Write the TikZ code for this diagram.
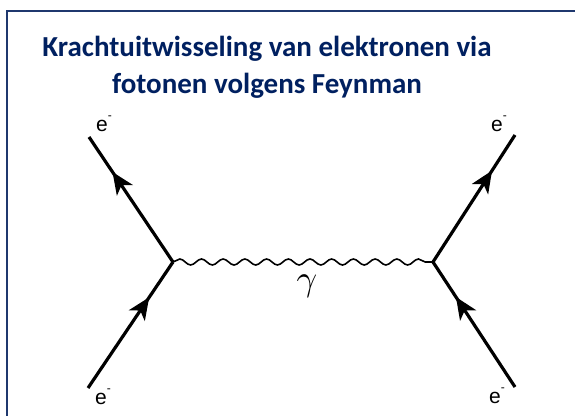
\documentclass[tikz,border=0pt]{standalone}
\usepackage{fontspec}
\setmainfont{Carlito}
\newfontfamily\labfont{Liberation Sans}
\usetikzlibrary{decorations.pathmorphing,decorations.markings,arrows.meta}
\definecolor{navy}{RGB}{0,32,96}
\definecolor{framec}{RGB}{31,56,110}
\tikzset{
  fermion/.style={line width=3.2pt, postaction={decorate},
    decoration={markings, mark=at position 0.72 with {\arrow{Stealth[length=22pt,width=19pt,inset=6pt]}}}},
  photon/.style={line width=1.6pt, decorate,
    decoration={snake, segment length=21.7pt, amplitude=3pt}},
  elab/.style={font=\labfont\fontsize{21}{23}\selectfont, inner sep=0pt},
  titletext/.style={font=\bfseries\fontsize{29}{33}\selectfont, text=navy, inner sep=0pt, anchor=base}
}
\newcommand{\eminus}{e\raisebox{0.55em}{\fontsize{12}{12}\selectfont -}}
\begin{document}
\begin{tikzpicture}[x=1pt,y=-1pt]
\useasboundingbox (0,0) rectangle (575,415);
\fill[white] (0,0) rectangle (575,415);
\draw[framec, line width=2.4pt] (7,420) -- (7,11) -- (580,11);
\node[titletext] (t1) at (267,56) {Krachtuitwisseling van elektronen via};
\node[titletext] (t2) at (267,93) {fotonen volgens Feynman};
\coordinate (vl) at (173,262);
\coordinate (vr) at (433,262);
\coordinate (tl) at (89,137);
\coordinate (bl) at (88,388);
\coordinate (tr) at (515,135);
\coordinate (br) at (515,387);
\draw[photon] (vl) -- (vr);
\draw[fermion] (bl) -- (vl);
\draw[fermion] (vl) -- (tl);
\draw[fermion] (br) -- (vr);
\draw[fermion] (vr) -- (tr);
\node[elab] (ltl) at (104,124) {\eminus};
\node[elab] (lbl) at (103,397) {\eminus};
\node[elab] (ltr) at (499,124) {\eminus};
\node[elab] (lbr) at (497,396) {\eminus};
\node[inner sep=0pt] (g) at (307,286) {\scalebox{3.6}{$\gamma$}};
\end{tikzpicture}
\end{document}
